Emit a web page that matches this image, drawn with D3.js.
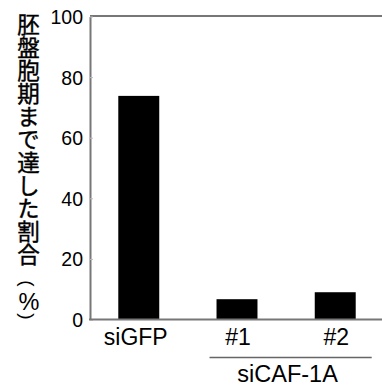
<!DOCTYPE html>
<html>
<head>
<meta charset="utf-8">
<script src="https://cdn.jsdelivr.net/npm/d3@7"></script>
<style>
  html, body { margin: 0; padding: 0; background: #fff; }
  svg { display: block; }
</style>
</head>
<body>
<div id="chart"></div>
<script>
// ---- data ----
const categories = ["siGFP", "#1", "#2"];
const values = [73.8, 6.7, 9.0];
const yTicks = [0, 20, 40, 60, 80, 100];
const groupLabel = "siCAF-1A";
const groupMembers = ["#1", "#2"];
const yTitleMain = "胚盤胞期まで達した割合";
const yTitleUnit = ["(", "%", ")"];

// ---- layout ----
const W = 382, H = 385;
const svg = d3.select("#chart").append("svg")
  .attr("width", W).attr("height", H);

const plotLeft = 90, plotRight = 384, plotTop = 16.5, plotBottom = 319.5;

const x = d3.scaleBand().domain(categories)
  .range([plotLeft, plotRight]).paddingInner(0.583).paddingOuter(0.288);
const y = d3.scaleLinear().domain([0, 100]).range([plotBottom, plotTop]);

const axisColor = "#777";
const font = "Arial, 'Liberation Sans', Helvetica, sans-serif";
const cjk = "'Noto Sans CJK JP', 'Noto Sans CJK SC', sans-serif";

// top frame line
svg.append("line")
  .attr("x1", plotLeft).attr("x2", W).attr("y1", 16).attr("y2", 16)
  .attr("stroke", axisColor).attr("stroke-width", 2);

// bars
svg.append("g").selectAll("rect")
  .data(categories.map((c, i) => ({ c, v: values[i] })))
  .join("rect")
  .attr("x", d => x(d.c))
  .attr("width", x.bandwidth())
  .attr("y", d => y(d.v))
  .attr("height", d => y(0) - y(d.v))
  .attr("fill", "#000");

// y axis
const yAxis = svg.append("g")
  .attr("transform", `translate(${plotLeft},0)`)
  .call(d3.axisLeft(y).tickValues(yTicks).tickSizeInner(-3).tickSizeOuter(0).tickPadding(7));
yAxis.select(".domain").attr("stroke", axisColor).attr("stroke-width", 2);
yAxis.selectAll(".tick line").attr("stroke", "#bbb").attr("stroke-width", 1);
yAxis.selectAll(".tick text")
  .attr("font-family", font).attr("font-size", 19.5).attr("fill", "#000")
  .attr("dy", "0.36em");

// x axis baseline
svg.append("line")
  .attr("x1", plotLeft - 1).attr("x2", W).attr("y1", plotBottom).attr("y2", plotBottom)
  .attr("stroke", axisColor).attr("stroke-width", 2);

// x labels
svg.append("g").selectAll("text")
  .data(categories)
  .join("text")
  .attr("x", d => x(d) + x.bandwidth() / 2 + (d === "siGFP" ? -3 : 1))
  .attr("y", 345)
  .attr("text-anchor", "middle")
  .attr("font-family", font).attr("font-size", 23).attr("fill", "#000")
  .text(d => d);

// group line + label
const gx1 = x(groupMembers[0]) - 7;
const gx2 = x(groupMembers[groupMembers.length - 1]) + x.bandwidth() + 16;
svg.append("line")
  .attr("x1", gx1).attr("x2", gx2).attr("y1", 357.5).attr("y2", 357.5)
  .attr("stroke", "#666").attr("stroke-width", 1.5);
svg.append("text")
  .attr("x", (gx1 + gx2) / 2 - 3)
  .attr("y", 381.5)
  .attr("text-anchor", "middle")
  .attr("font-family", font).attr("font-size", 23.5).attr("fill", "#000")
  .text(groupLabel);

// y title (vertical writing)
const cx = 28.5;
svg.append("text")
  .attr("transform", `translate(${cx},13.5)`)
  .style("writing-mode", "vertical-rl")
  .style("text-orientation", "upright")
  .attr("font-family", cjk)
  .attr("font-size", 22.5).attr("letter-spacing", 0.5)
  .attr("fill", "#000").attr("stroke", "#000").attr("stroke-width", 0.4)
  .text(yTitleMain);
// (%) : parentheses turned sideways as in vertical writing
const unitY = [283.5, 301.5, 316.5];
const unitX = [cx - 1.5, cx + 0.5, cx - 1.5];
svg.append("g").selectAll("text")
  .data(yTitleUnit)
  .join("text")
  .attr("transform", (d, i) => `translate(${unitX[i]},${unitY[i]})` + (i === 1 ? "" : " rotate(90)"))
  .attr("text-anchor", "middle")
  .attr("dominant-baseline", "central")
  .attr("font-family", font)
  .attr("font-size", (d, i) => i === 1 ? 23.5 : 19)
  .attr("fill", "#000")
  .text(d => d);
</script>
</body>
</html>
